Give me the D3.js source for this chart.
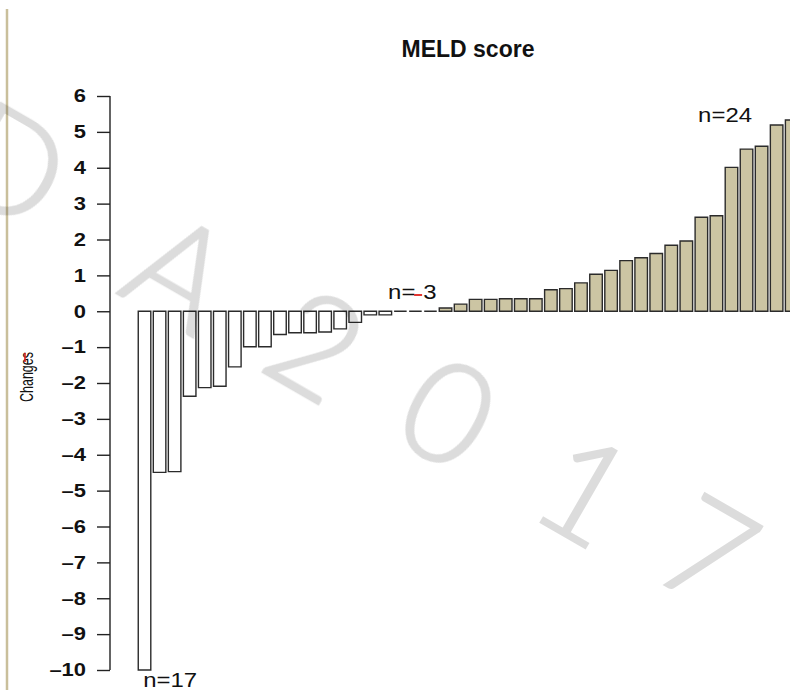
<!DOCTYPE html>
<html>
<head>
<meta charset="utf-8">
<script src="https://cdn.jsdelivr.net/npm/d3@7"></script>
<style>
  body { margin: 0; background: #fff; }
  svg { display: block; }
</style>
</head>
<body>
<div id="chart"></div>
<script>
// MELD score changes, sorted, one bar per patient
const changes = [
  -10, -4.49, -4.47, -2.37, -2.13, -2.09, -1.55, -0.99, -0.99, -0.65, -0.6, -0.6, -0.58, -0.49, -0.31, -0.1, -0.1,
  0, 0, 0,
  0.09, 0.2, 0.33, 0.33, 0.35, 0.35, 0.35, 0.6, 0.63, 0.79, 1.03, 1.14, 1.41, 1.49, 1.61, 1.84, 1.96, 2.62, 2.66,
  4.01, 4.52, 4.6, 5.19, 5.33
];
const yTicks = [6, 5, 4, 3, 2, 1, 0, -1, -2, -3, -4, -5, -6, -7, -8, -9, -10];
const groupLabels = ["n=17", "n=3", "n=24"];
const watermark = ["D", "A", "2", "0", "1", "7"];

const width = 790, height = 690;
const font = "Liberation Sans, Arial, Helvetica, sans-serif";

const svg = d3.select("#chart")
  .append("svg")
    .attr("width", width)
    .attr("height", height);

// tan frame line on the left
svg.append("line")
  .attr("x1", 7).attr("x2", 7)
  .attr("y1", 9).attr("y2", height)
  .attr("stroke", "#c9bf9b")
  .attr("stroke-width", 2.5);

const x = d3.scaleBand()
  .domain(d3.range(changes.length))
  .range([137, 137 + changes.length * 15.05])
  .paddingInner(1 / 6)
  .paddingOuter(1 / 12);

const y = d3.scaleLinear()
  .domain([-10, 6])
  .range([670, 96]);

// y axis, R style (labels a bit wide, like the original print)
const stretch = 1.22;
const yAxis = svg.append("g")
  .attr("transform", "translate(110,0)")
  .call(d3.axisLeft(y).tickValues(yTicks).tickSize(13).tickPadding(11)
    .tickFormat(d => d < 0 ? "\u2013" + Math.abs(d) : d));
yAxis.select(".domain").attr("d", `M0,${y(6)}V${y(-10)}`).attr("stroke", "#222").attr("stroke-width", 1.4);
yAxis.selectAll(".tick line").attr("stroke", "#222").attr("stroke-width", 1.4);
yAxis.selectAll(".tick text")
  .attr("x", -24 / stretch)
  .attr("transform", `scale(${stretch},1)`)
  .attr("fill", "#111")
  .attr("font-family", font)
  .attr("font-weight", "bold")
  .attr("font-size", "18px");

// bars as paths, so zero bars still show as a dash
svg.append("g")
  .selectAll("path")
  .data(changes)
  .join("path")
    .attr("d", (d, i) => {
      const x0 = x(i), w = x.bandwidth();
      const y0 = y(0), y1 = y(d);
      return `M${x0},${y0}H${x0 + w}V${y1}H${x0}Z`;
    })
    .attr("fill", d => d > 0 ? "#ccc5a3" : "#fff")
    .attr("stroke", "#2b2b2b")
    .attr("stroke-width", 1.4);

// title
svg.append("text")
  .attr("x", 468)
  .attr("y", 57)
  .attr("text-anchor", "middle")
  .attr("font-family", font)
  .attr("font-weight", "bold")
  .attr("font-size", "23px")
  .attr("fill", "#111")
  .text("MELD score");

// y label
svg.append("text")
  .attr("transform", "translate(33,377) rotate(-90)")
  .attr("text-anchor", "middle")
  .attr("font-family", font)
  .attr("font-size", "19px")
  .attr("textLength", 50)
  .attr("lengthAdjust", "spacingAndGlyphs")
  .attr("fill", "#111")
  .text("Changes");

// small red proof marks in the original
svg.append("line")
  .attr("x1", 25).attr("x2", 25).attr("y1", 353).attr("y2", 362)
  .attr("stroke", "#e0201a").attr("stroke-width", 1.6);

// group counts
const labelPos = [
  { x: x(0) + 5, y: 687 },
  { x: x(17) - 6, y: 299 },
  { x: x(37) + 3, y: 122 }
];
const nLab = svg.selectAll(".nlab")
  .data(groupLabels)
  .join("text")
    .attr("class", "nlab")
    .attr("transform", (d, i) => `translate(${labelPos[i].x},${labelPos[i].y}) scale(1.14,1)`)
    .attr("font-family", font)
    .attr("font-size", "21px")
    .attr("fill", "#111");
nLab.each(function(d) {
  const t = d3.select(this);
  if (d === "n=3") {
    t.append("tspan").text("n=");
    t.append("tspan").attr("dx", 7).text("3");
  } else {
    t.text(d);
  }
});
svg.append("line")
  .attr("x1", x(17) + 20).attr("x2", x(17) + 28)
  .attr("y1", 295).attr("y2", 295)
  .attr("stroke", "#e0201a").attr("stroke-width", 1.8);

// watermark letters across the plot
const wmPos = [[10, 165], [180, 272], [316, 345], [448, 413], [585, 490], [708, 552]];
svg.append("g")
  .attr("opacity", 0.14)
  .selectAll("text")
  .data(watermark)
  .join("text")
    .attr("transform", (d, i) => `translate(${wmPos[i][0]},${wmPos[i][1]}) rotate(30)`)
    .attr("y", 50)
    .attr("text-anchor", "middle")
    .attr("font-family", "Lato, Open Sans, sans-serif")
    .attr("font-weight", 300)
    .attr("font-size", "140px")
    .attr("fill", "#000")
    .attr("stroke", "#000")
    .attr("stroke-width", 2.5)
    .text(d => d);
</script>
</body>
</html>
